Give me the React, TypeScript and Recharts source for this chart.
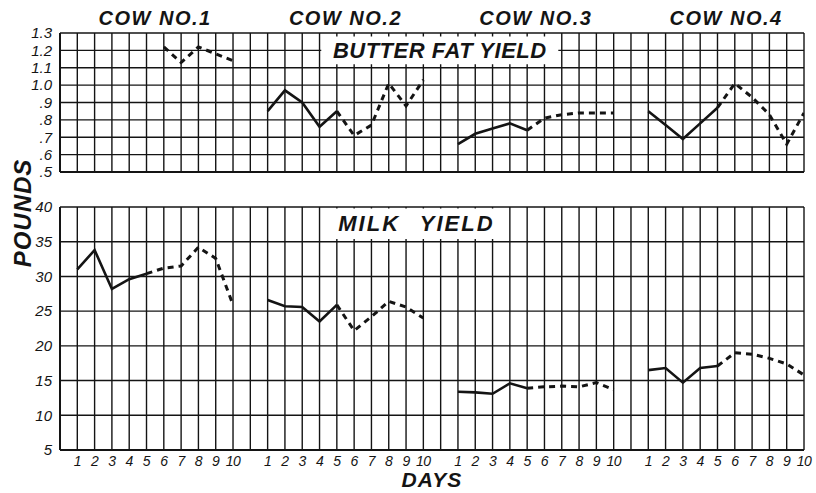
import React from 'react';
import { LineChart, Line, XAxis, YAxis, CartesianGrid, ReferenceArea, Label } from 'recharts';

// ---- data ----
const cowNames = ['COW NO.1', 'COW NO.2', 'COW NO.3', 'COW NO.4'];
const dayLabels = ['1', '2', '3', '4', '5', '6', '7', '8', '9', '10'];

// butter fat yield (pounds), days 1-10
const fatCow1 = [null, null, null, null, null, 1.22, 1.13, 1.22, 1.18, 1.14];
const fatCow2 = [0.85, 0.97, 0.9, 0.76, 0.85, 0.71, 0.77, 1.01, 0.88, 1.03];
const fatCow3 = [0.66, 0.72, 0.75, 0.78, 0.74, 0.81, 0.83, 0.84, 0.84, 0.84];
const fatCow4 = [0.85, 0.77, 0.69, 0.78, 0.87, 1.01, 0.93, 0.83, 0.66, 0.84];

// milk yield (pounds), days 1-10
const milkCow1 = [31.0, 33.8, 28.2, 29.6, 30.4, 31.2, 31.5, 34.2, 32.6, 25.9];
const milkCow2 = [26.6, 25.7, 25.6, 23.5, 25.9, 22.2, 24.2, 26.4, 25.6, 24.0];
const milkCow3 = [13.4, 13.3, 13.1, 14.6, 13.9, 14.1, 14.2, 14.1, 14.7, 13.7];
const milkCow4 = [16.5, 16.8, 14.7, 16.8, 17.1, 19.0, 18.8, 18.2, 17.4, 15.8];

const fatTicks = [0.5, 0.6, 0.7, 0.8, 0.9, 1.0, 1.1, 1.2, 1.3];
const milkTicks = [5, 10, 15, 20, 25, 30, 35, 40];

// solid segment: days 1-5; dashed segment: days 5-10
const SOLID_LAST = 4;
const DASH_FIRST = 4;
const SLOT = dayLabels.length + 1; // one empty column between cows

const fatByCow = [fatCow1, fatCow2, fatCow3, fatCow4];
const milkByCow = [milkCow1, milkCow2, milkCow3, milkCow4];

const rows: any[] = [];
fatByCow.forEach((fat, c) => {
  const milk = milkByCow[c];
  dayLabels.forEach((_, d) => {
    rows.push({
      x: c * SLOT + d + 1,
      fatSolid: d <= SOLID_LAST ? fat[d] : null,
      fatDash: d >= DASH_FIRST ? fat[d] : null,
      milkSolid: d <= SOLID_LAST ? milk[d] : null,
      milkDash: d >= DASH_FIRST ? milk[d] : null,
    });
  });
});

const X_MAX = cowNames.length * SLOT - 1;
const gridTicks = Array.from({ length: X_MAX + 1 }, (_, i) => i);
const cowCenters = cowNames.map((_, c) => c * SLOT + (dayLabels.length + 1) / 2);

const FONT = '"Liberation Sans", Arial, sans-serif';
const INK = '#141414';

const tickStyle = { fill: INK, fontSize: 15, fontStyle: 'italic', fontFamily: FONT };
const dayTickStyle = { fill: INK, fontSize: 14, fontStyle: 'italic', fontFamily: FONT, letterSpacing: -0.5 };

const dayFmt = (v: number) => {
  const r = v % SLOT;
  return r === 0 ? '' : dayLabels[r - 1];
};
const fatFmt = (v: number) => {
  const s = v.toFixed(1);
  return v < 1 ? s.slice(1) : s;
};

export default function App() {
  return (
    <div style={{ position: 'absolute', left: 0, top: 0, width: 816, height: 493, background: '#fff' }}>
      <div style={{ position: 'absolute', left: 0, top: 0 }}>
        <LineChart width={816} height={180} data={rows} margin={{ top: 3, right: 12, bottom: 7, left: 8 }}>
          <CartesianGrid stroke={INK} strokeWidth={1.4} />
          <XAxis
            dataKey="x"
            type="number"
            domain={[0, X_MAX]}
            allowDataOverflow
            ticks={gridTicks}
            interval={0}
            tickFormatter={() => ''}
            tick={{ fontSize: 1 } as any}
            tickLine={false}
            axisLine={{ stroke: INK, strokeWidth: 2 }}
            height={1}
          />
          <XAxis
            xAxisId="cows"
            dataKey="x"
            orientation="top"
            type="number"
            domain={[0, X_MAX]}
            allowDataOverflow
            ticks={cowCenters}
            interval={0}
            tickFormatter={(v: number) => cowNames[cowCenters.indexOf(v)]}
            tick={{ fill: INK, fontSize: 20, fontStyle: 'italic', fontWeight: 'bold', fontFamily: FONT, letterSpacing: 1.5 } as any}
            tickLine={false}
            axisLine={false}
            height={30}
          />
          <YAxis
            type="number"
            domain={[0.5, 1.3]}
            allowDataOverflow
            ticks={fatTicks}
            interval={0}
            tickFormatter={fatFmt}
            tick={tickStyle as any}
            tickLine={false}
            axisLine={{ stroke: INK, strokeWidth: 2 }}
            width={52}
          />
          <ReferenceArea
            x1={15.1}
            x2={28.8}
            y1={1.12}
            y2={1.28}
            fill="#fff"
            fillOpacity={1}
            stroke="none"
            label={{
              value: 'BUTTER FAT YIELD',
              position: 'center',
              fill: INK,
              fontSize: 22,
              fontStyle: 'italic',
              fontWeight: 'bold',
              fontFamily: FONT,
              letterSpacing: 0.5,
            } as any}
          />
          <Line dataKey="fatSolid" stroke={INK} strokeWidth={2.6} dot={false} isAnimationActive={false} connectNulls={false} />
          <Line dataKey="fatDash" stroke={INK} strokeWidth={3} strokeDasharray="6 5" dot={false} isAnimationActive={false} connectNulls={false} />
        </LineChart>
      </div>
      <div style={{ position: 'absolute', left: 0, top: 190 }}>
        <LineChart width={816} height={303} data={rows} margin={{ top: 17, right: 12, bottom: 3, left: 8 }}>
          <CartesianGrid stroke={INK} strokeWidth={1.4} />
          <XAxis
            dataKey="x"
            type="number"
            domain={[0, X_MAX]}
            allowDataOverflow
            ticks={gridTicks}
            tickFormatter={dayFmt}
            tick={dayTickStyle as any}
            tickLine={false}
            tickSize={4}
            tickMargin={2}
            axisLine={{ stroke: INK, strokeWidth: 2 }}
            interval={0}
            height={40}
          >
            <Label
              value="DAYS"
              position="insideBottom"
              offset={3}
              fill={INK}
              fontSize={21}
              fontStyle="italic"
              fontWeight="bold"
              fontFamily={FONT}
              letterSpacing={1}
            />
          </XAxis>
          <YAxis
            type="number"
            domain={[5, 40]}
            allowDataOverflow
            ticks={milkTicks}
            interval={0}
            tick={tickStyle as any}
            tickLine={false}
            axisLine={{ stroke: INK, strokeWidth: 2 }}
            width={52}
          />
          <ReferenceArea
            x1={15.9}
            x2={25.3}
            y1={35.4}
            y2={39.8}
            fill="#fff"
            fillOpacity={1}
            stroke="none"
            label={{
              value: 'MILK YIELD',
              position: 'center',
              fill: INK,
              fontSize: 22,
              fontStyle: 'italic',
              fontWeight: 'bold',
              fontFamily: FONT,
              letterSpacing: 2,
              wordSpacing: 12,
            } as any}
          />
          <Line dataKey="milkSolid" stroke={INK} strokeWidth={2.6} dot={false} isAnimationActive={false} connectNulls={false} />
          <Line dataKey="milkDash" stroke={INK} strokeWidth={3} strokeDasharray="6 5" dot={false} isAnimationActive={false} connectNulls={false} />
        </LineChart>
      </div>
      <svg style={{ position: 'absolute', left: 0, top: 0 }} width={60} height={493}>
        <text
          x={31}
          y={213}
          transform="rotate(-90 31 213)"
          textAnchor="middle"
          fill={INK}
          fontSize={24}
          fontStyle="italic"
          fontWeight="bold"
          fontFamily={FONT}
          letterSpacing={1}
        >
          POUNDS
        </text>
      </svg>
    </div>
  );
}
